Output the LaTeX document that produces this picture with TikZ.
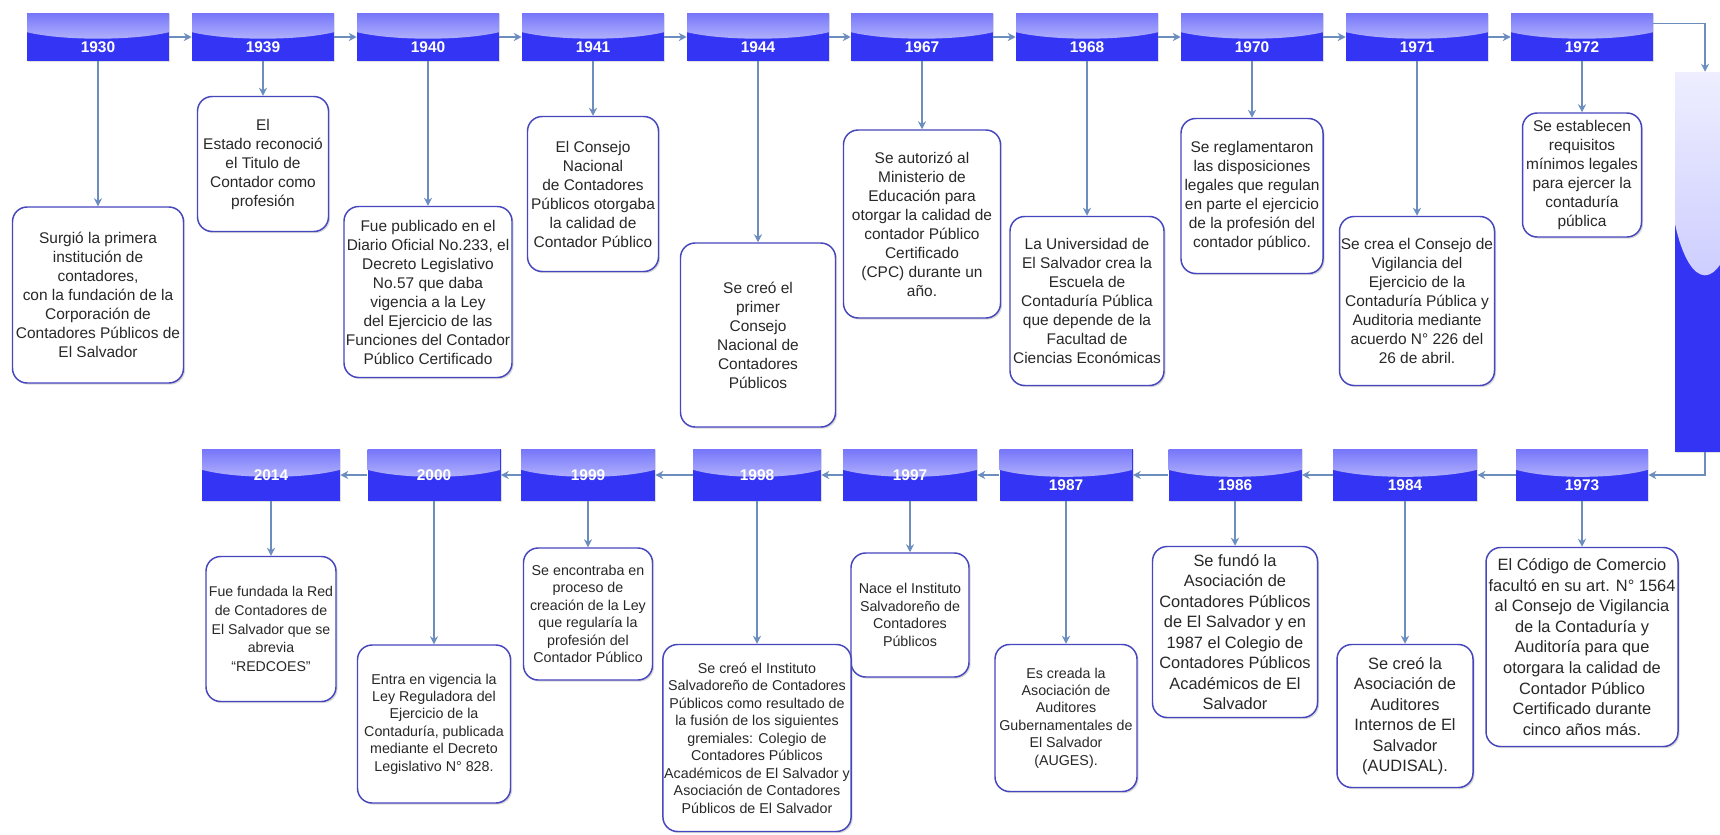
\documentclass[tikz,border=0pt]{standalone}
\usepackage{fontspec}
\setmainfont{Liberation Sans}
\usepackage{xcolor}
\usepackage{tikz}
\usetikzlibrary{arrows.meta, calc, shadows}

\definecolor{yearblue}{RGB}{52,52,245}
\definecolor{glosstop}{RGB}{226,226,255}
\definecolor{glossbot}{RGB}{118,118,250}
\definecolor{bartop}{RGB}{178,178,255}
\definecolor{barbot}{RGB}{238,238,255}
\definecolor{connline}{RGB}{108,142,191}
\definecolor{boxline}{RGB}{70,70,190}
\definecolor{txtgray}{RGB}{40,40,40}

\tikzset{
  dims/.style 2 args={minimum width=#1*0.75pt, minimum height=#2*0.75pt},
  % y axis points down, so the shading is given upside down
  gloss/.style 2 args={path picture={
    \shade[top color=#2, bottom color=#1]
      let \p1=(path picture bounding box.north west), \p2=(path picture bounding box.south east) in
      (\x1,\y1) -- (\x2,\y1) -- (\x2,{\y1+0.4*(\y2-\y1)})
      .. controls ({\x2-0.25*(\x2-\x1)},{\y1+0.58*(\y2-\y1)}) and ({\x1+0.25*(\x2-\x1)},{\y1+0.58*(\y2-\y1)}) .. (\x1,{\y1+0.4*(\y2-\y1)}) -- cycle;
  }},
  yearbox/.style={rectangle, fill=yearblue, gloss={glosstop}{glossbot}, inner sep=0pt, dims={142}{48},
    drop shadow={shadow xshift=1pt, shadow yshift=-1pt, opacity=0.25}},
  yrmid/.style={text=white, font=\bfseries\fontsize{11.6}{14}\selectfont},
  yrlow/.style={yrmid, yshift=-7.5pt},
  txtbox/.style={rectangle, rounded corners=11pt, draw=boxline, line width=1.1pt, fill=white,
    align=center, inner sep=1pt, text=txtgray, font=\fontsize{11.6}{14.25}\selectfont,
    drop shadow={shadow xshift=1.2pt, shadow yshift=-1.2pt, opacity=0.3}},
  txtbig/.style={font=\fontsize{12.3}{15.4}\selectfont},
  txtsmall/.style={font=\fontsize{10.7}{13.1}\selectfont},
  conn/.style={draw=connline, line width=0.9pt, -{Stealth[length=6pt, width=6pt]}}
}

\begin{document}
\begin{tikzpicture}[x=0.75pt, y=-0.75pt]
\useasboundingbox (0,0) rectangle (1720,835);
\fill[white] (0,0) rectangle (1720,835);
\clip (0,0) rectangle (1720,835);
%\draw[step=100,gray,very thin] (0,0) grid (1720,835);

% top row
\node[yearbox, label={[yrlow]center:1930}] (y1930) at (98,37) {};
\node[yearbox, label={[yrlow]center:1939}] (y1939) at (263,37) {};
\node[yearbox, label={[yrlow]center:1940}] (y1940) at (428,37) {};
\node[yearbox, label={[yrlow]center:1941}] (y1941) at (593,37) {};
\node[yearbox, label={[yrlow]center:1944}] (y1944) at (758,37) {};
\node[yearbox, label={[yrlow]center:1967}] (y1967) at (922,37) {};
\node[yearbox, label={[yrlow]center:1968}] (y1968) at (1087,37) {};
\node[yearbox, label={[yrlow]center:1970}] (y1970) at (1252,37) {};
\node[yearbox, label={[yrlow]center:1971}] (y1971) at (1417,37) {};
\node[yearbox, label={[yrlow]center:1972}] (y1972) at (1582,37) {};

\node[yearbox, gloss={bartop}{barbot}, dims={60}{380}] (bar) at (1705,262) {};

\node[txtbox, dims={171}{176}] (t1930) at (98,295) {Surgió la primera\\institución de\\contadores,\\con la fundación de la\\Corporación de\\Contadores Públicos de\\El Salvador};
\node[txtbox, dims={131}{135}] (t1939) at (263,164) {El\\Estado reconoció\\el Titulo de\\Contador como\\profesión};
\node[txtbox, dims={168}{171}] (t1940) at (428,292) {Fue publicado en el\\Diario Oficial No.233, el\\Decreto Legislativo\\No.57 que daba\\vigencia a la Ley\\del Ejercicio de las\\Funciones del Contador\\Público Certificado};
\node[txtbox, dims={131}{155}] (t1941) at (593,194) {El Consejo\\Nacional\\de Contadores\\Públicos otorgaba\\la calidad de\\Contador Público};
\node[txtbox, dims={155}{184}] (t1944) at (758,335) {Se creó el\\primer\\Consejo\\Nacional de\\Contadores\\Públicos};
\node[txtbox, dims={157}{188}] (t1967) at (922,224) {Se autorizó al\\Ministerio de\\Educación para\\otorgar la calidad de\\contador Público\\Certificado\\(CPC) durante un\\año.};
\node[txtbox, dims={154}{169}] (t1968) at (1087,301) {La Universidad de\\El Salvador crea la\\Escuela de\\Contaduría Pública\\que depende de la\\Facultad de\\Ciencias Económicas};
\node[txtbox, dims={142}{155}] (t1970) at (1252,196) {Se reglamentaron\\las disposiciones\\legales que regulan\\en parte el ejercicio\\de la profesión del\\contador público.};
\node[txtbox, dims={155}{169}] (t1971) at (1417,301) {Se crea el Consejo de\\Vigilancia del\\Ejercicio de la\\Contaduría Pública y\\Auditoria mediante\\acuerdo N° 226 del\\26 de abril.};
\node[txtbox, dims={119}{124}] (t1972) at (1582,175) {Se establecen\\requisitos\\mínimos legales\\para ejercer la\\contaduría\\pública};

% bottom row
\node[yearbox, dims={132}{52}, label={[yrlow]center:1973}] (y1973) at (1582,475) {};
\node[yearbox, dims={144}{52}, label={[yrlow]center:1984}] (y1984) at (1405,475) {};
\node[yearbox, dims={133}{52}, label={[yrlow]center:1986}] (y1986) at (1235,475) {};
\node[yearbox, dims={133}{52}, label={[yrlow]center:1987}] (y1987) at (1066,475) {};
\node[yearbox, dims={134}{52}, label={[yrmid]center:1997}] (y1997) at (910,475) {};
\node[yearbox, dims={128}{52}, label={[yrmid]center:1998}] (y1998) at (757,475) {};
\node[yearbox, dims={134}{52}, label={[yrmid]center:1999}] (y1999) at (588,475) {};
\node[yearbox, dims={133}{52}, label={[yrmid]center:2000}] (y2000) at (434,475) {};
\node[yearbox, dims={138}{52}, label={[yrmid]center:2014}] (y2014) at (271,475) {};

\node[txtbox, txtbig, dims={192}{199}] (t1973) at (1582,647) {El Código de Comercio\\facultó en su art. N° 1564\\al Consejo de Vigilancia\\de la Contaduría y\\Auditoría para que\\otorgara la calidad de\\Contador Público\\Certificado durante\\cinco años más.};
\node[txtbox, txtbig, dims={136}{143}] (t1984) at (1405,716) {Se creó la\\Asociación de\\Auditores\\Internos de El\\Salvador\\(AUDISAL).};
\node[txtbox, txtbig, dims={165}{171}] (t1986) at (1235,632) {Se fundó la\\Asociación de\\Contadores Públicos\\de El Salvador y en\\1987 el Colegio de\\Contadores Públicos\\Académicos de El\\Salvador};
\node[txtbox, txtsmall, dims={142}{147}] (t1987) at (1066,718) {Es creada la\\Asociación de\\Auditores\\Gubernamentales de\\El Salvador\\(AUGES).};
\node[txtbox, txtsmall, dims={118}{124}] (t1997) at (910,615) {Nace el Instituto\\Salvadoreño de\\Contadores\\Públicos};
\node[txtbox, txtsmall, dims={187}{187}] (t1998) at (757,738) {Se creó el Instituto\\Salvadoreño de Contadores\\Públicos como resultado de\\la fusión de los siguientes\\gremiales: Colegio de\\Contadores Públicos\\Académicos de El Salvador y\\Asociación de Contadores\\Públicos de El Salvador};
\node[txtbox, txtsmall, dims={129}{132}] (t1999) at (588,614) {Se encontraba en\\proceso de\\creación de la Ley\\que regularía la\\profesión del\\Contador Público};
\node[txtbox, txtsmall, dims={153}{158}] (t2000) at (434,724) {Entra en vigencia la\\Ley Reguladora del\\Ejercicio de la\\Contaduría, publicada\\mediante el Decreto\\Legislativo N° 828.};
\node[txtbox, font=\fontsize{10.6}{13.9}\selectfont, dims={130}{145}] (t2014) at (271,629) {Fue fundada la Red\\de Contadores de\\El Salvador que se\\abrevia\\“REDCOES”};

% timeline
\draw[conn] (y1930) -- (y1939);
\draw[conn] (y1939) -- (y1940);
\draw[conn] (y1940) -- (y1941);
\draw[conn] (y1941) -- (y1944);
\draw[conn] (y1944) -- (y1967);
\draw[conn] (y1967) -- (y1968);
\draw[conn] (y1968) -- (y1970);
\draw[conn] (y1970) -- (y1971);
\draw[conn] (y1971) -- (y1972);
\draw[conn] ([yshift=-8.25pt]y1972.north east) -| (bar.north);
\draw[conn] (bar.south) |- (y1973.east);
\draw[conn] (y1973) -- (y1984);
\draw[conn] (y1984) -- (y1986);
\draw[conn] (y1986) -- (y1987);
\draw[conn] (y1987) -- (y1997);
\draw[conn] (y1997) -- (y1998);
\draw[conn] (y1998) -- (y1999);
\draw[conn] (y1999) -- (y2000);
\draw[conn] (y2000) -- (y2014);

% year to event
\draw[conn] (y1930) -- (t1930);
\draw[conn] (y1939) -- (t1939);
\draw[conn] (y1940) -- (t1940);
\draw[conn] (y1941) -- (t1941);
\draw[conn] (y1944) -- (t1944);
\draw[conn] (y1967) -- (t1967);
\draw[conn] (y1968) -- (t1968);
\draw[conn] (y1970) -- (t1970);
\draw[conn] (y1971) -- (t1971);
\draw[conn] (y1972) -- (t1972);
\draw[conn] (y1973) -- (t1973);
\draw[conn] (y1984) -- (t1984);
\draw[conn] (y1986) -- (t1986);
\draw[conn] (y1987) -- (t1987);
\draw[conn] (y1997) -- (t1997);
\draw[conn] (y1998) -- (t1998);
\draw[conn] (y1999) -- (t1999);
\draw[conn] (y2000) -- (t2000);
\draw[conn] (y2014) -- (t2014);
\end{tikzpicture}
\end{document}
